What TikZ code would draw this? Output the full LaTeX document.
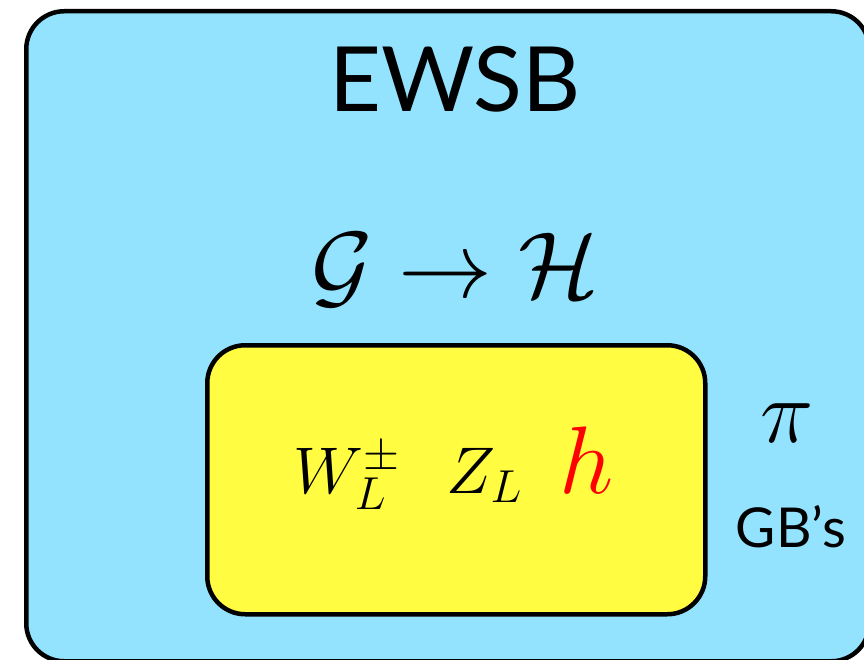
\documentclass[tikz,border=0pt]{standalone}
\usepackage{fix-cm}
\usepackage{fontspec}
\newfontfamily\gbfont{Lato}
\definecolor{ewsbblue}{RGB}{147,227,255}
\definecolor{gbyellow}{RGB}{255,252,65}

\begin{document}
\begin{tikzpicture}[x=1pt,y=-1pt,
    roundbox/.style={draw=black,line width=4.5pt,rounded corners=38pt,inner sep=0pt,anchor=north west},
    bigtext/.style={anchor=base,inner sep=0pt}]
  \useasboundingbox (0,0) rectangle (864,660);
  \clip (0,0) rectangle (864,660);

  % Cadre externe : brisure electrofaible (coupe a droite et en bas)
  \node[roundbox,fill=ewsbblue,minimum width=843pt,minimum height=650pt] (ewsb) at (24,9) {};
  \node[bigtext] (title) at (455,112) {\gbfont\fontsize{90}{100}\selectfont EWSB};
  \node[bigtext] (breaking) at (455,297) {\fontsize{94}{100}\selectfont $\mathcal{G}\to\mathcal{H}$};

  % Cadre interne : les modes longitudinaux et le Higgs
  \node[roundbox,fill=gbyellow,minimum width=498pt,minimum height=269pt] (inner) at (205,343) {};
  \node[bigtext] (fields) at (454,493)
    {\fontsize{66}{70}\selectfont $W_L^{\pm}\hspace{46pt}Z_L\hspace{38pt}$\textcolor{red}{\fontsize{96}{100}\selectfont $h$}};

  % Bosons de Goldstone
  \node[bigtext] (pion) at (787,442) {\fontsize{90}{100}\selectfont $\pi$};
  \node[bigtext] (gb) at (791,547) {\gbfont\fontsize{55}{60}\selectfont GB’s};
\end{tikzpicture}
\end{document}
